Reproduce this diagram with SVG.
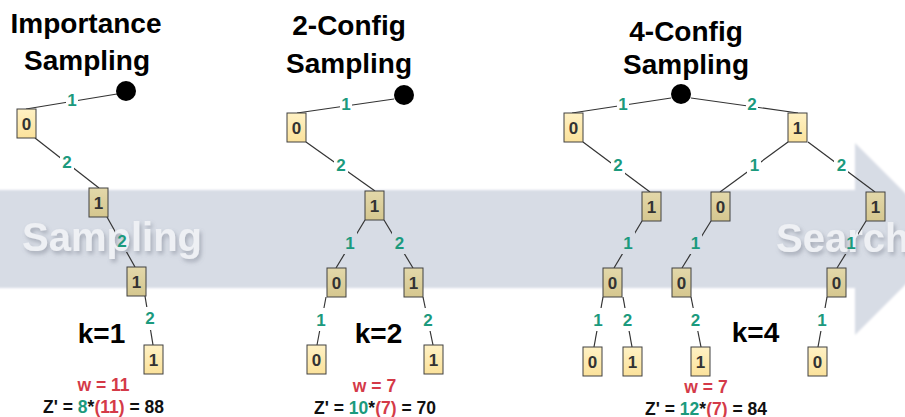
<svg xmlns="http://www.w3.org/2000/svg" width="905" height="417" viewBox="0 0 905 417">
<defs>
<style>
text{font-family:"Liberation Sans",Arial,sans-serif;font-weight:bold}
.title{font-size:28px;fill:#000;text-anchor:middle}
.k{font-size:28px;fill:#000;text-anchor:middle}
.nt{font-size:17px;fill:#333;text-anchor:middle}
.el{font-size:17px;fill:#1b9a7d;text-anchor:middle}
.w{font-size:17.5px;fill:#d43a48;text-anchor:middle}
.z{font-size:17.5px;fill:#111;text-anchor:middle}
.tl{fill:#1b9a7d}.rd{fill:#d43a48}
.nd{fill:url(#gl);stroke:#404040;stroke-width:1}
.dk{fill:url(#gd)}
.root{fill:#000}
.wm{font-size:40px;fill:#eef0f4;filter:url(#sh)}
#conn line{stroke:#333;stroke-width:1.2}
</style>
<linearGradient id="gl" x1="0" y1="0" x2="0" y2="1"><stop offset="0" stop-color="#fff1c4"/><stop offset="1" stop-color="#fbe29b"/></linearGradient>
<linearGradient id="gd" x1="0" y1="0" x2="0" y2="1"><stop offset="0" stop-color="#e3d8aa"/><stop offset="1" stop-color="#d5c78f"/></linearGradient>
<filter id="sh" x="-10%" y="-30%" width="120%" height="160%"><feDropShadow dx="2" dy="3" stdDeviation="2" flood-color="#6b7280" flood-opacity="0.45"/></filter>
<filter id="soft"><feGaussianBlur stdDeviation="1.2"/></filter>
<mask id="gap" maskUnits="userSpaceOnUse" x="0" y="0" width="905" height="417">
<rect x="0" y="0" width="905" height="417" fill="#fff"/>
<g fill="#000">
<rect x="66" y="92" width="12" height="16"/>
<rect x="60" y="152" width="14" height="20"/>
<rect x="115" y="230" width="14" height="22"/>
<rect x="143" y="307" width="14" height="23"/>
<rect x="340" y="96" width="12" height="16"/>
<rect x="334" y="155" width="14" height="20"/>
<rect x="343" y="232" width="14" height="22"/>
<rect x="392" y="232" width="14" height="22"/>
<rect x="314" y="308" width="14" height="23"/>
<rect x="421" y="308" width="14" height="23"/>
<rect x="617" y="96" width="12" height="16"/>
<rect x="746" y="96" width="12" height="16"/>
<rect x="611" y="155" width="14" height="20"/>
<rect x="747" y="155" width="14" height="20"/>
<rect x="834" y="155" width="14" height="20"/>
<rect x="621" y="232" width="14" height="22"/>
<rect x="688" y="232" width="14" height="22"/>
<rect x="844" y="232" width="14" height="22"/>
<rect x="591" y="308" width="14" height="23"/>
<rect x="620" y="308" width="14" height="23"/>
<rect x="688" y="308" width="14" height="23"/>
<rect x="815" y="308" width="14" height="23"/>
</g>
</mask>
</defs>
<rect width="905" height="417" fill="#fff"/>
<g id="background">
<path d="M-5,190 H855 V143 L951,239 L855,335 V288 H-5 Z" fill="#d7dce5" filter="url(#soft)"/>
<text class="wm" x="22" y="251">Sampling</text>
<text class="wm" x="776" y="252">Search</text>
</g>
<g id="titles">
<text class="title" x="86" y="33">Importance</text>
<text class="title" x="87" y="70">Sampling</text>
<text class="title" x="349" y="35">2-Config</text>
<text class="title" x="349" y="73">Sampling</text>
<text class="title" x="686" y="41">4-Config</text>
<text class="title" x="686" y="74">Sampling</text>
</g>
<g id="conn" mask="url(#gap)">
<line x1="117" y1="94" x2="26" y2="109"/>
<line x1="35" y1="138" x2="99" y2="188"/>
<line x1="107" y1="217" x2="135" y2="267"/>
<line x1="145" y1="296" x2="153" y2="345"/>
<line x1="394" y1="99" x2="297" y2="113"/>
<line x1="306" y1="142" x2="375" y2="191"/>
<line x1="365" y1="220" x2="336" y2="268"/>
<line x1="384" y1="220" x2="413" y2="268"/>
<line x1="326" y1="297" x2="317" y2="345"/>
<line x1="423" y1="297" x2="433" y2="345"/>
<line x1="671" y1="98" x2="572" y2="113"/>
<line x1="691" y1="98" x2="798" y2="113"/>
<line x1="583" y1="142" x2="650" y2="192"/>
<line x1="788" y1="142" x2="720" y2="192"/>
<line x1="808" y1="142" x2="875" y2="192"/>
<line x1="642" y1="221" x2="614" y2="268"/>
<line x1="711" y1="221" x2="682" y2="268"/>
<line x1="866" y1="221" x2="837" y2="268"/>
<line x1="603" y1="297" x2="594" y2="347"/>
<line x1="623" y1="297" x2="632" y2="347"/>
<line x1="691" y1="297" x2="701" y2="347"/>
<line x1="827" y1="297" x2="818" y2="347"/>
</g>
<g id="edge-labels">
<text class="el" x="72" y="106">1</text>
<text class="el" x="67" y="168">2</text>
<text class="el" x="122" y="247">2</text>
<text class="el" x="150" y="324">2</text>
<text class="el" x="346" y="110">1</text>
<text class="el" x="341" y="171">2</text>
<text class="el" x="350" y="249">1</text>
<text class="el" x="399.5" y="249">2</text>
<text class="el" x="321" y="326">1</text>
<text class="el" x="428" y="326">2</text>
<text class="el" x="623" y="110">1</text>
<text class="el" x="752" y="110">2</text>
<text class="el" x="618" y="171">2</text>
<text class="el" x="754.5" y="171">1</text>
<text class="el" x="841.5" y="171">2</text>
<text class="el" x="628" y="249">1</text>
<text class="el" x="695.5" y="249">1</text>
<text class="el" x="851" y="249">1</text>
<text class="el" x="598" y="326">1</text>
<text class="el" x="627.5" y="326">2</text>
<text class="el" x="695.5" y="326">2</text>
<text class="el" x="822" y="326">1</text>
</g>
<g id="t1-root"><circle class="root" cx="126" cy="91" r="10"/></g>
<g id="t1-a"><rect class="nd" x="17" y="109" width="19" height="29"/><text class="nt" x="26.5" y="129.5">0</text></g>
<g id="t1-b"><rect class="nd dk" x="89" y="188" width="19" height="29"/><text class="nt" x="98.5" y="208.5">1</text></g>
<g id="t1-c"><rect class="nd dk" x="127" y="267" width="19" height="29"/><text class="nt" x="136.5" y="287.5">1</text></g>
<g id="t1-d"><rect class="nd" x="144" y="345" width="19" height="29"/><text class="nt" x="153.5" y="365.5">1</text></g>
<g id="t2-root"><circle class="root" cx="404" cy="95" r="10"/></g>
<g id="t2-a"><rect class="nd" x="287" y="113" width="19" height="29"/><text class="nt" x="296.5" y="133.5">0</text></g>
<g id="t2-b"><rect class="nd dk" x="365" y="191" width="19" height="29"/><text class="nt" x="374.5" y="211.5">1</text></g>
<g id="t2-c"><rect class="nd dk" x="327" y="268" width="19" height="29"/><text class="nt" x="336.5" y="288.5">0</text></g>
<g id="t2-d"><rect class="nd dk" x="404" y="268" width="19" height="29"/><text class="nt" x="413.5" y="288.5">1</text></g>
<g id="t2-e"><rect class="nd" x="307" y="345" width="19" height="29"/><text class="nt" x="316.5" y="365.5">0</text></g>
<g id="t2-f"><rect class="nd" x="424" y="345" width="19" height="29"/><text class="nt" x="433.5" y="365.5">1</text></g>
<g id="t3-root"><circle class="root" cx="681" cy="94" r="10"/></g>
<g id="t3-a"><rect class="nd" x="564" y="113" width="19" height="29"/><text class="nt" x="573.5" y="133.5">0</text></g>
<g id="t3-b"><rect class="nd" x="788" y="113" width="19" height="29"/><text class="nt" x="797.5" y="133.5">1</text></g>
<g id="t3-c"><rect class="nd dk" x="642" y="192" width="19" height="29"/><text class="nt" x="651.5" y="212.5">1</text></g>
<g id="t3-d"><rect class="nd dk" x="711" y="192" width="19" height="29"/><text class="nt" x="720.5" y="212.5">0</text></g>
<g id="t3-e"><rect class="nd dk" x="866" y="192" width="19" height="29"/><text class="nt" x="875.5" y="212.5">1</text></g>
<g id="t3-f"><rect class="nd dk" x="603" y="268" width="19" height="29"/><text class="nt" x="612.5" y="288.5">0</text></g>
<g id="t3-g"><rect class="nd dk" x="672" y="268" width="19" height="29"/><text class="nt" x="681.5" y="288.5">0</text></g>
<g id="t3-h"><rect class="nd dk" x="827" y="268" width="19" height="29"/><text class="nt" x="836.5" y="288.5">0</text></g>
<g id="t3-i"><rect class="nd" x="583" y="347" width="19" height="29"/><text class="nt" x="592.5" y="367.5">0</text></g>
<g id="t3-j"><rect class="nd" x="623" y="347" width="19" height="29"/><text class="nt" x="632.5" y="367.5">1</text></g>
<g id="t3-k"><rect class="nd" x="691" y="347" width="19" height="29"/><text class="nt" x="700.5" y="367.5">1</text></g>
<g id="t3-l"><rect class="nd" x="808" y="347" width="19" height="29"/><text class="nt" x="817.5" y="367.5">0</text></g>
<g id="annotations">
<text class="k" x="101.5" y="343">k=1</text>
<text class="k" x="378.5" y="343">k=2</text>
<text class="k" x="755.5" y="342">k=4</text>
<text class="w" x="103.5" y="391">w = 11</text>
<text class="w" x="374.5" y="392">w = 7</text>
<text class="w" x="706" y="393">w = 7</text>
<text class="z" x="103.5" y="413">Z' = <tspan class="tl">8</tspan>*<tspan class="rd">(11)</tspan> = 88</text>
<text class="z" x="375" y="414">Z' = <tspan class="tl">10</tspan>*<tspan class="rd">(7)</tspan> = 70</text>
<text class="z" x="706" y="415">Z' = <tspan class="tl">12</tspan>*<tspan class="rd">(7)</tspan> = 84</text>
</g>
</svg>
